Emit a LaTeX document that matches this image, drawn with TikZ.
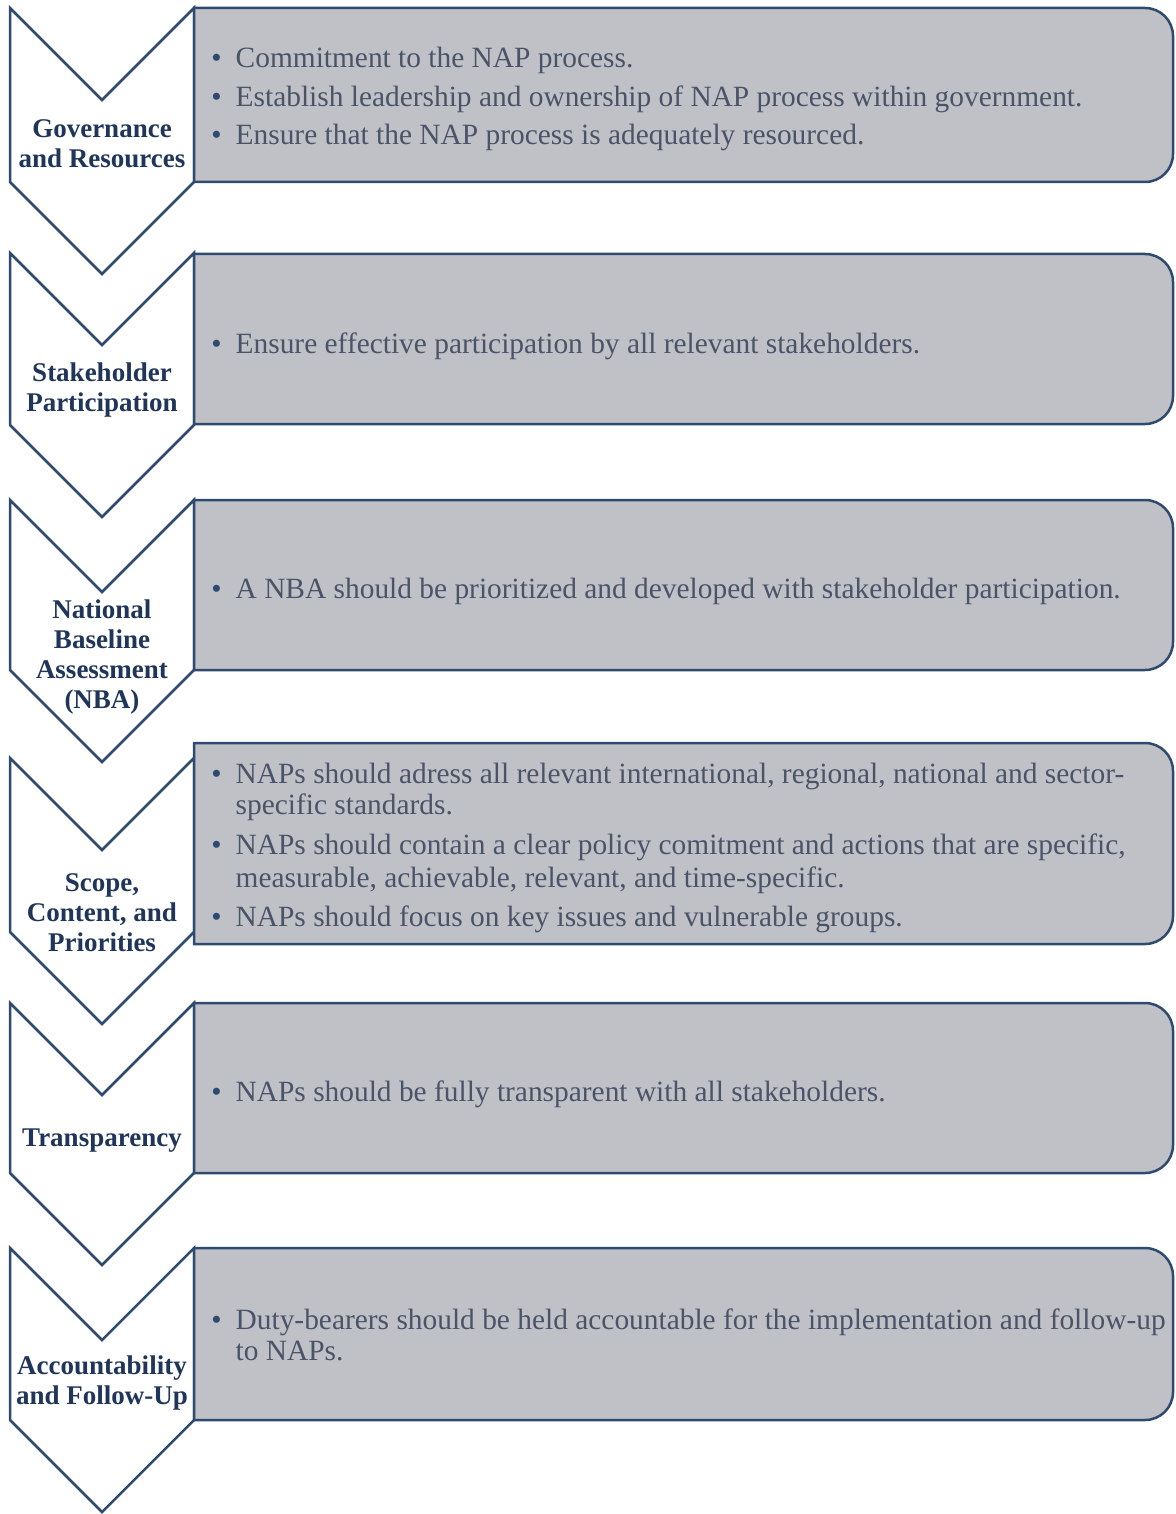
\documentclass[tikz,border=0pt]{standalone}
\usepackage{fontspec}
\setmainfont{Liberation Serif}
\definecolor{navy}{HTML}{1F355A}
\definecolor{edgeblue}{HTML}{2F4A6F}
\definecolor{boxfill}{HTML}{BFC1C7}
\definecolor{bodytext}{HTML}{4A5368}
\newcommand\chevronat[2]{%
  \draw[chevshape] (10,#1) -- ++(92,92) -- ++(92,-92) -- ++(0,#2) -- ++(-92,92) -- ++(-92,-92) -- cycle;}
\newcommand\panelat[2]{%
  \draw[panelshape] (194,#1) -- (1145,#1) .. controls (1160.5,#1) and (1173,#1+12.5) .. (1173,#1+28)
    -- (1173,#2-28) .. controls (1173,#2-12.5) and (1160.5,#2) .. (1145,#2) -- (194,#2) -- cycle;}
\newcommand\bul{{\color{edgeblue}\textbullet}}
\begin{document}
\begin{tikzpicture}[x=0.5pt,y=-0.5pt,
  chevshape/.style={draw=edgeblue,fill=white,line width=1.25pt,line join=miter},
  panelshape/.style={draw=edgeblue,fill=boxfill,line width=1.25pt},
  steplabel/.style={font=\bfseries\fontsize{13.5}{15}\selectfont,text=navy,align=center,inner sep=0pt},
  bodytxt/.style={font=\fontsize{14.7}{15.5}\selectfont,text=bodytext,anchor=west,inner sep=0pt}]
\useasboundingbox (0,0) rectangle (1175,1514);
\chevronat{8}{174}
\chevronat{253}{172}
\chevronat{500}{170}
\chevronat{758}{174}
\chevronat{1003}{170}
\chevronat{1248}{172}
\panelat{8}{182}
\panelat{254}{424}
\panelat{500}{670}
\panelat{743}{944}
\panelat{1003}{1173}
\panelat{1248}{1420}
\node[steplabel] (l1) at (102,144) {Governance\\and Resources};
\node[steplabel] (l2) at (102,390) {Stakeholder\\Participation};
\node[steplabel] (l3) at (102,657) {National\\Baseline\\Assessment\\(NBA)};
\node[steplabel] (l4) at (102,913) {Scope,\\Content, and\\Priorities};
\node[steplabel] (l5) at (102,1141) {Transparency};
\node[steplabel] (l6) at (102,1383) {Accountability\\and Follow-Up};
\node[bodytxt] (t1) at (211,100) {\begin{tabular}{@{}l@{\hspace{7pt}}l@{}}
\bul & Commitment to the NAP process.\\[3.7pt]
\bul & Establish leadership and ownership of NAP process within government.\\[3.5pt]
\bul & Ensure that the NAP process is adequately resourced.
\end{tabular}};
\node[bodytxt] (t2) at (211,347) {\begin{tabular}{@{}l@{\hspace{7pt}}l@{}}
\bul & Ensure effective participation by all relevant stakeholders.
\end{tabular}};
\node[bodytxt] (t3) at (211,592) {\begin{tabular}{@{}l@{\hspace{7pt}}l@{}}
\bul & A NBA should be prioritized and developed with stakeholder participation.
\end{tabular}};
\node[bodytxt] (t4) at (211,849) {\begin{tabular}{@{}l@{\hspace{7pt}}l@{}}
\bul & NAPs should adress all relevant international, regional, national and sector-\\
 & specific standards.\\[4.6pt]
\bul & NAPs should contain a clear policy comitment and actions that are specific,\\[0.6pt]
 & measurable, achievable, relevant, and time-specific.\\[4.4pt]
\bul & NAPs should focus on key issues and vulnerable groups.
\end{tabular}};
\node[bodytxt] (t5) at (211,1095) {\begin{tabular}{@{}l@{\hspace{7pt}}l@{}}
\bul & NAPs should be fully transparent with all stakeholders.
\end{tabular}};
\node[bodytxt] (t6) at (211,1339) {\begin{tabular}{@{}l@{\hspace{7pt}}l@{}}
\bul & Duty-bearers should be held accountable for the implementation and follow-up\\
 & to NAPs.
\end{tabular}};
\end{tikzpicture}
\end{document}
